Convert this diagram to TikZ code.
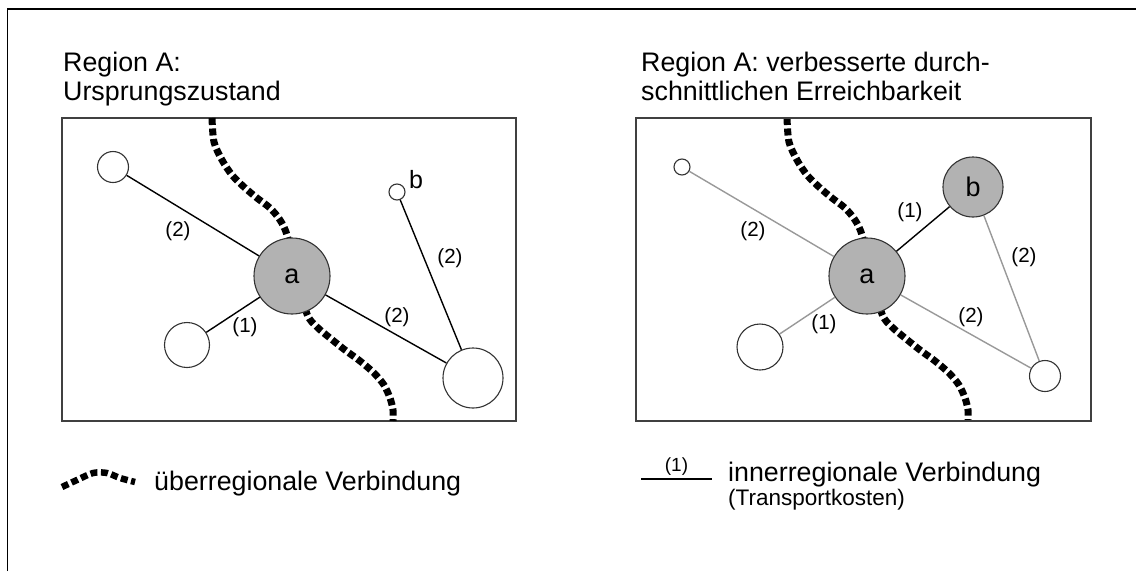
\documentclass[tikz,border=0pt]{standalone}
\usepackage{fontspec}
\setmainfont{Liberation Sans}
\begin{document}
\begin{tikzpicture}[x=1pt,y=-1pt,
  town/.style={circle,draw=black!80,line width=1.1pt,fill=white,inner sep=0pt,minimum size=#1},
  hub/.style={town=#1,fill=black!30,font=\fontsize{27}{27}\selectfont},
  road/.style={line width=1.4pt,black},
  weakroad/.style={line width=1.4pt,black!40},
  cost/.style={font=\fontsize{20.5}{22}\selectfont,inner sep=0pt},
  highway/.style={line width=7pt,dash pattern=on 7pt off 3.5pt},
  frame/.style={draw=black!75,line width=1.3pt},
  title/.style={anchor=base west,font=\fontsize{26.8}{30}\selectfont,inner sep=0pt}]
\useasboundingbox (0,0) rectangle (1136,571);

% outer frame
\draw[line width=1.5pt] (7.5,571) -- (7.5,9) -- (1136,9);

% ---------- left panel: initial state ----------
\node[title] (t1a) at (63,71) {Region A:};
\node[title] (t1b) at (63,100) {Ursprungszustand};
\draw[frame] (62,118) rectangle (516,421);

\foreach \dx in {0,575}{
  \begin{scope}[xshift=\dx pt]
    \draw[highway] plot[smooth] coordinates {(212,118) (214,142) (222,160) (232,175)
      (244,187) (257,198) (270,208) (280,220) (287,235) (297,275) (307,314)
      (317,327) (330,338) (345,350) (360,361) (374,373) (384,385) (390,398)
      (393,410) (393,421)};
  \end{scope}
}

\node[hub=76pt] (a1) at (292,276) {a};
\node[town=31pt] (p1) at (113,167) {};
\node[town=16pt] (b1) at (397,192) {};
\node[town=45pt] (q1) at (187,345) {};
\node[town=60pt] (r1) at (473,378) {};
\node[font=\fontsize{25}{25}\selectfont,inner sep=0pt] (bl1) at (416,180) {b};

\draw[road] (p1) -- (a1);
\draw[road] (q1) -- (a1);
\draw[road] (a1) -- (r1);
\draw[road] (b1) -- (r1);
\node[cost] (c11) at (178,231) {(2)};
\node[cost] (c12) at (245,327) {(1)};
\node[cost] (c13) at (397,317) {(2)};
\node[cost] (c14) at (450,258) {(2)};

% ---------- right panel: improved accessibility ----------
\node[title] (t2a) at (641,71) {Region A: verbesserte durch-};
\node[title] (t2b) at (641,100) {schnittlichen Erreichbarkeit};
\draw[frame] (636,118) rectangle (1091,421);

\node[hub=76pt] (a2) at (867,276) {a};
\node[hub=60pt] (b2) at (973,187) {b};
\node[town=16pt] (p2) at (682,167) {};
\node[town=46pt] (q2) at (760,347) {};
\node[town=31pt] (r2) at (1045,376) {};

\draw[weakroad] (p2) -- (a2);
\draw[weakroad] (q2) -- (a2);
\draw[weakroad] (a2) -- (r2);
\draw[weakroad] (b2) -- (r2);
\draw[road] (a2) -- (b2);
\node[cost] (c21) at (753,231) {(2)};
\node[cost] (c22) at (824,324) {(1)};
\node[cost] (c23) at (971,317) {(2)};
\node[cost] (c24) at (910,212) {(1)};
\node[cost] (c25) at (1024,257) {(2)};

% ---------- legend ----------
\draw[highway,line width=6.5pt] plot[smooth] coordinates {(62,487) (77,480) (93,473) (107,473) (120,478) (135,482)};
\node[title] (lg1) at (154,490) {überregionale Verbindung};

\coordinate (ls) at (641,479);
\coordinate (le) at (712,479);
\draw[road] (ls) -- node[cost,midway,yshift=12pt,font=\fontsize{19}{20}\selectfont] (lc) {(1)} (le);
\node[title] (lg2) at (728,481) {innerregionale Verbindung};
\node[anchor=base west,font=\fontsize{22.5}{25}\selectfont,inner sep=0pt] (lg3) at (728,505) {(Transportkosten)};
\end{tikzpicture}
\end{document}
